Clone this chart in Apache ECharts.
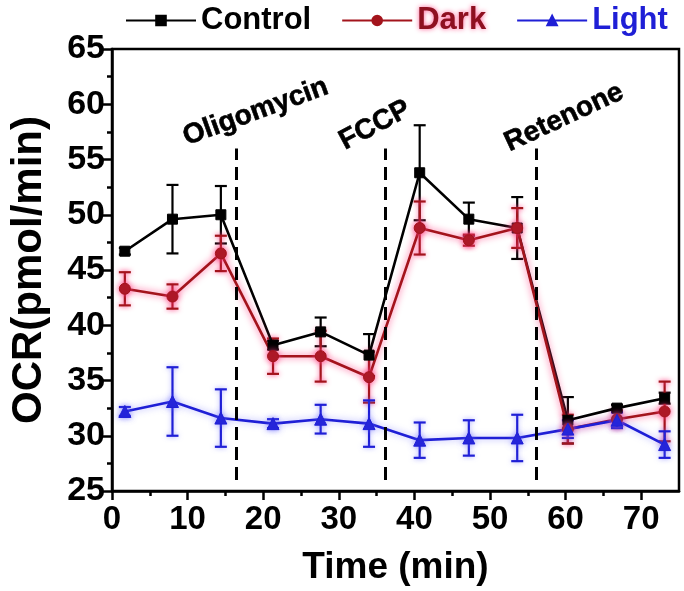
<!DOCTYPE html>
<html>
<head>
<meta charset="utf-8">
<script src="https://cdn.jsdelivr.net/npm/echarts@6/dist/echarts.min.js"></script>
<style>
html,body{margin:0;padding:0;background:#fff;}
#main{width:684px;height:591px;}
</style>
</head>
<body>
<div id="main"></div>
<script>
// ---- data ----
var seriesNames = ['Control', 'Dark', 'Light'];
var time = [1.7, 8.0, 14.4, 21.3, 27.6, 34.0, 40.7, 47.2, 53.6, 60.3, 66.8, 73.1];
var control = [46.7, 49.6, 50.0, 38.2, 39.4, 37.3, 53.8, 49.6, 48.8, 31.4, 32.5, 33.4];
var controlErr = [0.3, 3.1, 2.6, 0.4, 1.3, 1.9, 4.3, 1.5, 2.8, 2.1, 0.3, 0.5];
var dark = [43.3, 42.6, 46.5, 37.2, 37.2, 35.3, 48.8, 47.7, 48.8, 30.6, 31.5, 32.2];
var darkErr = [1.5, 1.1, 1.6, 1.6, 2.3, 2.3, 2.4, 0.5, 1.8, 1.3, 0.8, 2.7];
var light = [32.2, 33.1, 31.6, 31.1, 31.5, 31.1, 29.6, 29.8, 29.8, 30.6, 31.4, 29.2];
var lightErr = [0.4, 3.1, 2.6, 0.4, 1.3, 2.1, 1.6, 1.6, 2.1, 0.8, 0.7, 1.2];
var injectionNames = ['Oligomycin', 'FCCP', 'Retenone'];
var injectionTimes = [16.5, 36.2, 56.1];
var injectionRange = [26, 56];
var annotationX = [19.0, 34.8, 59.8];
var annotationY = [59.3, 58.1, 58.8];
var xTicks = [0, 10, 20, 30, 40, 50, 60, 70];
var xMinorTicks = [5, 15, 25, 35, 45, 55, 65];

// ---- styles ----
var FONT = '"Liberation Sans", Arial, sans-serif';
var colors = {Control: '#000000', Dark: '#a3141c', Light: '#1f1fd6'};
var glow = {Control: null, Dark: 'rgba(255,60,130,0.95)', Light: 'rgba(100,100,255,0.55)'};
var symbols = {Control: 'rect', Dark: 'circle', Light: 'triangle'};
var symbolSizes = {Control: 10, Dark: 11, Light: 12};

function pairs(xs, ys) { return xs.map(function (x, i) { return [x, ys[i]]; }); }
function errData(xs, ys, es) { return xs.map(function (x, i) { return [x, ys[i] - es[i], ys[i] + es[i]]; }); }

function errorSeries(name, xs, ys, es) {
  var c = colors[name];
  return {
    type: 'custom',
    name: name + ' err',
    z: 1,
    silent: true,
    data: errData(xs, ys, es),
    renderItem: function (params, api) {
      var lo = api.coord([api.value(0), api.value(1)]);
      var hi = api.coord([api.value(0), api.value(2)]);
      var w = 6;
      var style = {stroke: c, lineWidth: 2.2, shadowBlur: glow[name] ? 5 : 0, shadowColor: glow[name] || 'transparent'};
      return {
        type: 'group',
        children: [
          {type: 'line', shape: {x1: lo[0], y1: lo[1], x2: hi[0], y2: hi[1]}, style: style},
          {type: 'line', shape: {x1: lo[0] - w, y1: lo[1], x2: lo[0] + w, y2: lo[1]}, style: style},
          {type: 'line', shape: {x1: hi[0] - w, y1: hi[1], x2: hi[0] + w, y2: hi[1]}, style: style}
        ]
      };
    }
  };
}

function lineSeries(name, xs, ys) {
  var c = colors[name];
  return {
    type: 'line',
    name: name,
    z: 3,
    data: pairs(xs, ys),
    symbol: symbols[name],
    symbolSize: symbolSizes[name],
    showAllSymbol: true,
    lineStyle: {color: c, width: 2.6, shadowBlur: glow[name] ? 7 : 0, shadowColor: glow[name] || 'transparent'},
    itemStyle: {color: c, borderColor: c, borderWidth: 1, shadowBlur: glow[name] ? 6 : 0, shadowColor: glow[name] || 'transparent'},
    emphasis: {disabled: true},
    animation: false
  };
}

var lineCtrl = lineSeries('Control', time, control);
lineCtrl.markLine = {
  silent: true,
  symbol: ['none', 'none'],
  label: {show: false},
  lineStyle: {color: '#000', width: 3, type: [13, 7]},
  data: injectionTimes.map(function (t) {
    return [{coord: [t, injectionRange[0]]}, {coord: [t, injectionRange[1]]}];
  })
};

var rotations = [20, 28, 25];
var annotations = {
  type: 'scatter',
  name: 'annot',
  symbol: 'circle',
  symbolSize: 1,
  itemStyle: {color: 'rgba(0,0,0,0)', opacity: 1},
  emphasis: {disabled: true},
  silent: true,
  z: 5,
  data: injectionNames.map(function (n, i) {
    return {name: n, value: [annotationX[i], annotationY[i]],
      label: {show: true, position: 'inside', formatter: n, rotate: rotations[i],
        color: '#000', opacity: 1, fontSize: 28, fontWeight: 'bold', fontFamily: FONT,
        textBorderColor: '#000', textBorderWidth: 0.6, align: 'center', verticalAlign: 'middle'}};
  })
};

var axisLineStyle = {color: '#000', width: 2.5};

var option = {
  animation: false,
  backgroundColor: '#fff',
  grid: {left: 108, right: 5, top: 49, bottom: 99, show: true, borderColor: '#000', borderWidth: 2.5, backgroundColor: 'transparent'},
  legend: {
    left: 120,
    top: 0,
    itemWidth: 70,
    itemHeight: 12,
    itemGap: 30,
    textStyle: {fontSize: 31, fontWeight: 'bold', fontFamily: FONT},
    data: [
      {name: 'Control', textStyle: {color: colors.Control}},
      {name: 'Dark', textStyle: {color: '#8e1020', textShadowColor: 'rgba(255,80,140,0.95)', textShadowBlur: 5}},
      {name: 'Light', textStyle: {color: colors.Light}}
    ]
  },
  xAxis: [{
    type: 'value',
    position: 'bottom',
    min: 0, max: 75, interval: 10,
    splitLine: {show: false},
    axisLine: {show: true, lineStyle: axisLineStyle},
    axisTick: {show: true, inside: false, length: 9, lineStyle: {color: '#000', width: 2.5}},
    axisLabel: {show: true, showMaxLabel: false, margin: 12, color: '#000', fontSize: 33, fontWeight: 'bold', fontFamily: FONT},
    name: 'Time (min)',
    nameLocation: 'middle',
    nameGap: 58,
    nameTextStyle: {color: '#000', fontSize: 37, fontWeight: 'bold', fontFamily: FONT}
  }, {
    type: 'value',
    position: 'bottom',
    min: 0, max: 75, interval: 10,
    splitLine: {show: false},
    axisLine: {show: false},
    axisTick: {show: true, inside: false, length: 5, customValues: xMinorTicks, lineStyle: {color: '#000', width: 2.5}},
    axisLabel: {show: false}
  }],
  yAxis: {
    type: 'value',
    min: 25, max: 65, interval: 5,
    splitLine: {show: false},
    axisLine: {show: true, lineStyle: axisLineStyle},
    axisTick: {show: true, inside: false, length: 9, lineStyle: {color: '#000', width: 2.5}},
    minorTick: {show: true, splitNumber: 2, length: 5, lineStyle: {color: '#000', width: 2.5}},
    axisLabel: {margin: 7, color: '#000', fontSize: 34, fontWeight: 'bold', fontFamily: FONT},
    name: 'OCR(pmol/min)',
    nameLocation: 'middle',
    nameGap: 62,
    nameTextStyle: {color: '#000', fontSize: 42, fontWeight: 'bold', fontFamily: FONT}
  },
  series: [
    errorSeries('Control', time, control, controlErr),
    errorSeries('Dark', time, dark, darkErr),
    errorSeries('Light', time, light, lightErr),
    lineCtrl,
    lineSeries('Dark', time, dark),
    lineSeries('Light', time, light),
    annotations
  ]
};

var chart = echarts.init(document.getElementById('main'), null, {renderer: 'canvas'});
chart.setOption(option);
</script>
</body>
</html>
